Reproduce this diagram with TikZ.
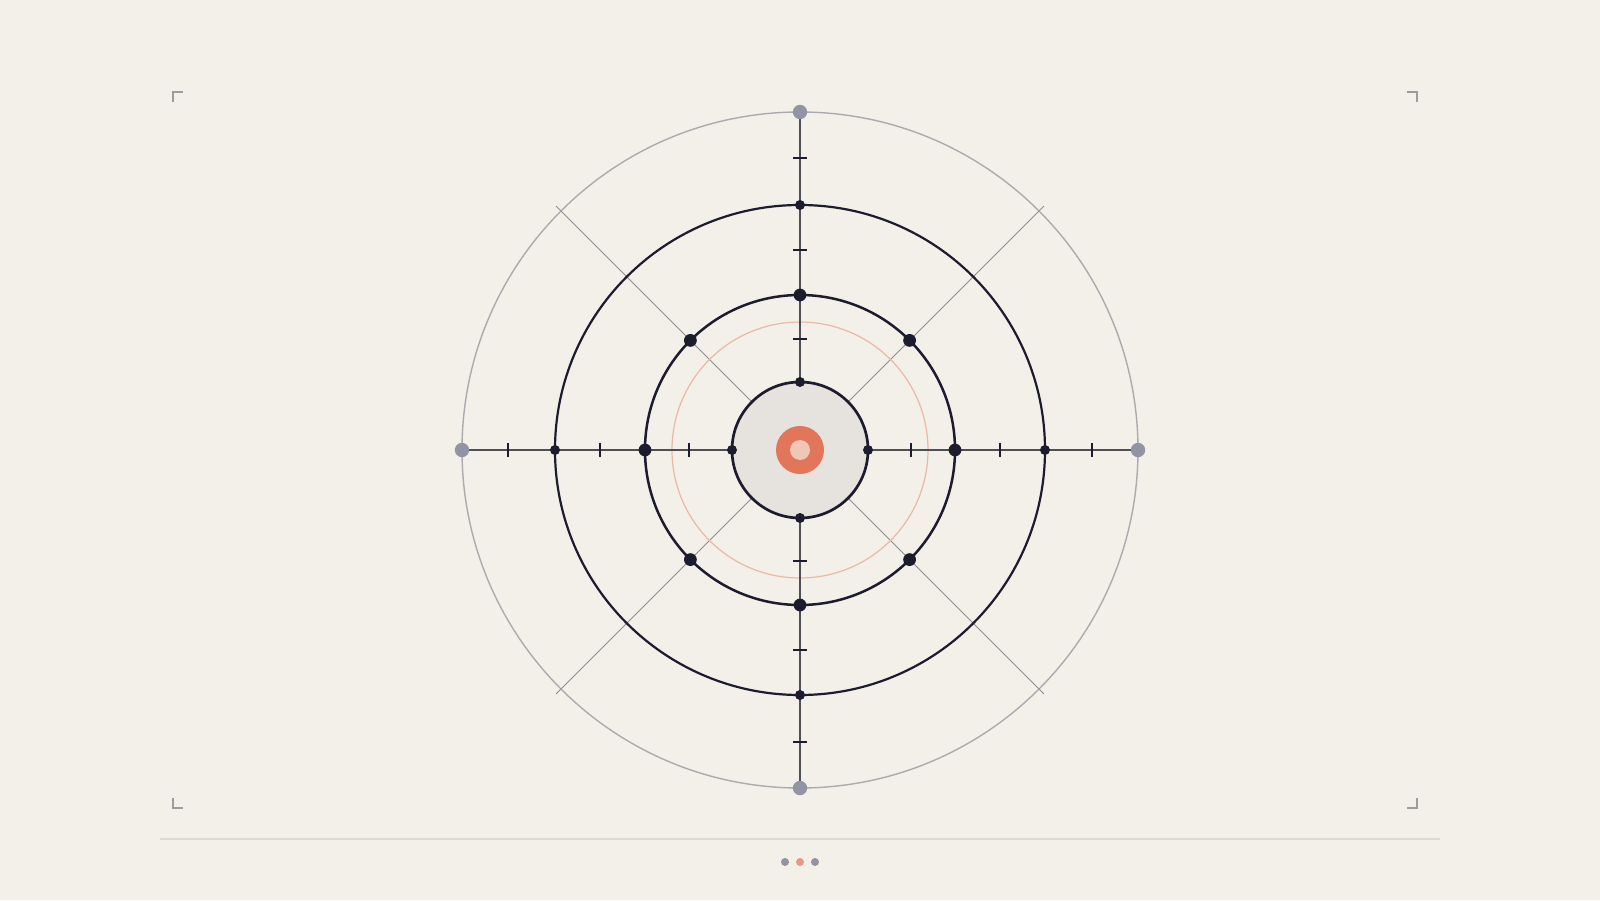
\documentclass[tikz,border=0pt]{standalone}
\usetikzlibrary{calc}
\definecolor{paper}{HTML}{F3EFE9}
\definecolor{ink}{HTML}{1C1C2E}
\definecolor{axisgray}{HTML}{4E4E54}
\definecolor{ringgray}{HTML}{ABABAE}
\definecolor{diaggray}{HTML}{8E8E8E}
\definecolor{coral}{HTML}{E2765A}
\definecolor{blush}{HTML}{F0C6B6}
\definecolor{halo}{HTML}{EBB8A6}
\definecolor{pin}{HTML}{9294A4}
\definecolor{disk}{HTML}{E6E2DD}
\definecolor{rule}{HTML}{DCD8D2}
\definecolor{mark}{HTML}{9C9CA0}

\tikzset{
  smalldot/.style={circle,fill=ink,inner sep=0pt,minimum size=5pt},
  bigdot/.style={circle,fill=ink,inner sep=0pt,minimum size=6.4pt},
  pinhead/.style={circle,fill=pin,inner sep=0pt,minimum size=7.2pt},
  navdot/.style={circle,inner sep=0pt,minimum size=4pt},
  tickmark/.style={draw=ink,line width=1pt},
  axisline/.style={draw=axisgray,line width=0.9pt},
  diagline/.style={draw=diaggray,line width=0.5pt},
  cornermark/.style={draw=mark,line width=1pt},
}

\begin{document}
\begin{tikzpicture}[x=0.5pt,y=0.5pt]
    \fill[paper] (-800,-450) rectangle (800,450);
    \useasboundingbox (-800,-450) rectangle (800,450);
    % frame corners and rule
    \draw[cornermark] (-627,348) -- (-627,358) -- (-617,358);
    \draw[cornermark] (607,358) -- (617,358) -- (617,348);
    \draw[cornermark] (-627,-348) -- (-627,-358) -- (-617,-358);
    \draw[cornermark] (607,-358) -- (617,-358) -- (617,-348);
    \coordinate (ruleL) at (-640,-389);
    \coordinate (ruleR) at (640,-389);
    \draw[draw=rule,line width=1.3pt] (ruleL) -- (ruleR);
    % rings
    \coordinate (c) at (0,0);
    \draw[draw=ringgray,line width=0.7pt] (c) circle[radius=338];
    \foreach \a in {45,135,225,315}
        \draw[diagline] (\a:68) -- (\a:345);
    \draw[draw=halo,line width=0.6pt] (c) circle[radius=128];
    \draw[draw=ink,line width=1.1pt] (c) circle[radius=245];
    \draw[draw=ink,line width=1.25pt] (c) circle[radius=155];
    % axes
    \coordinate (pinN) at (90:338);
    \coordinate (pinS) at (270:338);
    \coordinate (pinE) at (0:338);
    \coordinate (pinW) at (180:338);
    \draw[axisline] (pinW) -- (pinE);
    \draw[axisline] (pinN) -- (pinS);
    \foreach \a in {0,90,180,270}
        \foreach \r in {111,200,292}
            \draw[tickmark] ($(\a:\r)+(\a+90:7)$) -- ($(\a:\r)+(\a-90:7)$);
    % core
    \filldraw[fill=disk,draw=ink,line width=1.35pt] (c) circle[radius=68];
    \fill[coral] (c) circle[radius=24];
    \fill[blush] (c) circle[radius=10];
    % dots on the rings
    \node[pinhead] (pN) at (pinN) {};
    \node[pinhead] (pS) at (pinS) {};
    \node[pinhead] (pE) at (pinE) {};
    \node[pinhead] (pW) at (pinW) {};
    \foreach \a/\n in {0/E,90/N,180/W,270/S} {
        \node[smalldot] (in\n) at (\a:68) {};
        \node[smalldot] (out\n) at (\a:245) {};
    }
    \foreach \a/\n in {0/E,45/NE,90/N,135/NW,180/W,225/SW,270/S,315/SE}
        \node[bigdot] (mid\n) at (\a:155) {};
    % pager
    \node[navdot,fill=pin] (nav1) at (-15,-412) {};
    \node[navdot,fill=coral!75!white] (nav2) at (0,-412) {};
    \node[navdot,fill=pin] (nav3) at (15,-412) {};
\end{tikzpicture}
\end{document}
